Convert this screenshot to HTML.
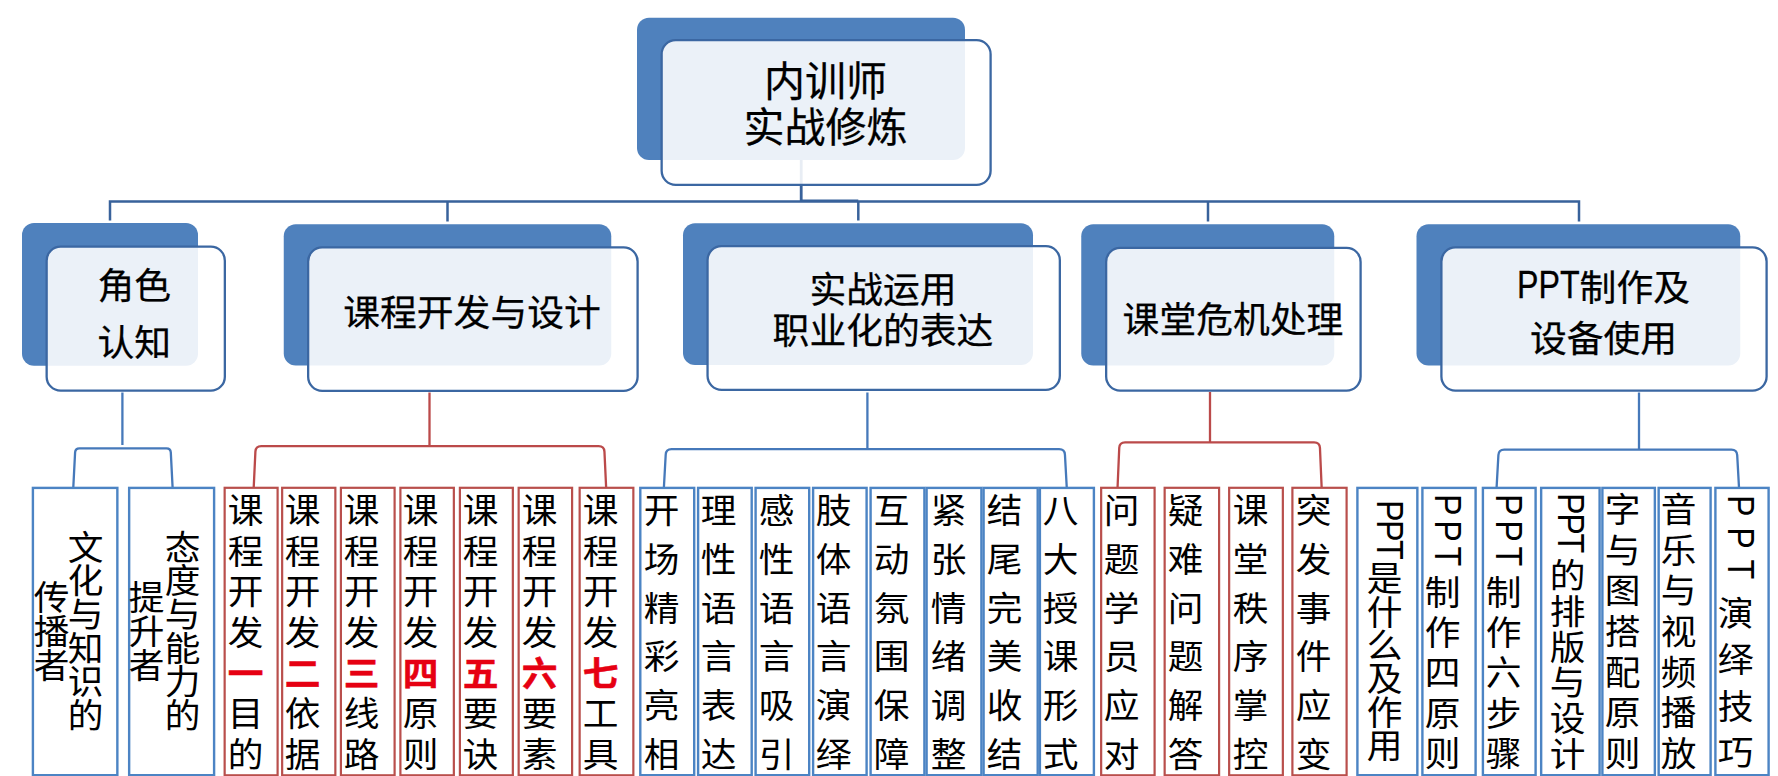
<!DOCTYPE html>
<html lang="zh-CN">
<head>
<meta charset="utf-8">
<title>内训师实战修炼</title>
<style>
html,body{margin:0;padding:0;background:#fff;}
body{width:1778px;height:776px;overflow:hidden;position:relative;font-family:"Liberation Sans","Noto Sans CJK SC",sans-serif;color:#000;}
#stage{position:absolute;left:0;top:0;width:1778px;height:776px;overflow:hidden;}
svg{position:absolute;left:0;top:0;}
.h{position:absolute;width:600px;text-align:center;white-space:nowrap;-webkit-text-stroke:0.25px #000;}
.v{position:absolute;writing-mode:vertical-rl;white-space:nowrap;text-orientation:mixed;transform:scaleX(1.05);transform-origin:50% 50%;}
.v b{color:#e60012;font-weight:700;-webkit-text-stroke:0.5px #e60012;}
.p{font-size:0.875em;display:inline-block;line-height:1;transform:translateY(-2.5px) scaleY(1.18);transform-origin:50% 84.6%;}
.pv{font-size:0.95em;display:inline-block;transform:translateX(7px) scaleX(1.1);transform-origin:50% 50%;}
</style>
</head>
<body>
<div id="stage">
<svg width="1778" height="776" viewBox="0 0 1778 776">
<path d="M801.2 159 V201.4" fill="none" stroke="#38629b" stroke-width="2.8"/>
<path d="M110 220.5 V201.4 H1579 V221.5" fill="none" stroke="#38629b" stroke-width="2.5"/>
<path d="M801.2 200.4 H858.3" fill="none" stroke="#38629b" stroke-width="1.6"/>
<path d="M447.5 201.4 V221.5" fill="none" stroke="#38629b" stroke-width="2.5"/>
<path d="M858.3 201.4 V220.5" fill="none" stroke="#38629b" stroke-width="2.5"/>
<path d="M1208 201.4 V221.5" fill="none" stroke="#38629b" stroke-width="2.5"/>
<path d="M122.4 392.5 V445" fill="none" stroke="#4679ba" stroke-width="2.3"/>
<path d="M73.30 487.5 L75.10 452.40 Q75.40 448.4 79.40 448.4 H166.50 Q170.50 448.4 170.80 452.40 L172.60 487.5" fill="none" stroke="#4679ba" stroke-width="2.3"/>
<path d="M429.5 392.5 V446.1" fill="none" stroke="#bb4a4a" stroke-width="2.3"/>
<path d="M253.60 490 L255.40 451.60 Q255.70 446.1 261.20 446.1 H598.65 Q604.15 446.1 604.45 451.60 L606.25 490" fill="none" stroke="#bb4a4a" stroke-width="2.3"/>
<path d="M867.4 392.5 V449.2" fill="none" stroke="#4679ba" stroke-width="2.3"/>
<path d="M663.90 487.5 L665.70 454.70 Q666.00 449.2 671.50 449.2 H1059.15 Q1064.65 449.2 1064.95 454.70 L1066.75 487.5" fill="none" stroke="#4679ba" stroke-width="2.3"/>
<path d="M1210 392 V442.3" fill="none" stroke="#bb4a4a" stroke-width="2.3"/>
<path d="M1117.45 490 L1119.25 447.80 Q1119.55 442.3 1125.05 442.3 H1314.15 Q1319.65 442.3 1319.95 447.80 L1321.75 490" fill="none" stroke="#bb4a4a" stroke-width="2.3"/>
<path d="M1639 392.5 V449.6" fill="none" stroke="#4679ba" stroke-width="2.3"/>
<path d="M1496.60 487.5 L1498.40 455.10 Q1498.70 449.6 1504.20 449.6 H1731.40 Q1736.90 449.6 1737.20 455.10 L1739.00 487.5" fill="none" stroke="#4679ba" stroke-width="2.3"/>
<rect x="637.00" y="17.70" width="328.00" height="142.30" rx="12" ry="12" fill="#4f81bd"/>
<rect x="22.00" y="223.00" width="176.00" height="142.75" rx="12" ry="12" fill="#4f81bd"/>
<rect x="283.75" y="224.25" width="327.50" height="141.25" rx="12" ry="12" fill="#4f81bd"/>
<rect x="683.00" y="223.25" width="350.00" height="141.75" rx="12" ry="12" fill="#4f81bd"/>
<rect x="1081.25" y="224.25" width="253.00" height="141.25" rx="12" ry="12" fill="#4f81bd"/>
<rect x="1416.50" y="224.25" width="323.75" height="141.25" rx="12" ry="12" fill="#4f81bd"/>
<rect x="661.65" y="40.15" width="328.95" height="144.70" rx="14" ry="14" fill="rgba(255,255,255,0.885)" stroke="#3b67a2" stroke-width="2.3"/>
<rect x="46.65" y="246.65" width="178.20" height="144.00" rx="14" ry="14" fill="rgba(255,255,255,0.885)" stroke="#3b67a2" stroke-width="2.3"/>
<rect x="308.15" y="247.40" width="329.45" height="143.45" rx="14" ry="14" fill="rgba(255,255,255,0.885)" stroke="#3b67a2" stroke-width="2.3"/>
<rect x="707.55" y="246.15" width="352.30" height="143.70" rx="14" ry="14" fill="rgba(255,255,255,0.885)" stroke="#3b67a2" stroke-width="2.3"/>
<rect x="1106.15" y="247.90" width="254.45" height="142.70" rx="14" ry="14" fill="rgba(255,255,255,0.885)" stroke="#3b67a2" stroke-width="2.3"/>
<rect x="1441.40" y="247.40" width="325.20" height="143.20" rx="14" ry="14" fill="rgba(255,255,255,0.885)" stroke="#3b67a2" stroke-width="2.3"/>
<rect x="640.30" y="487.90" width="53.90" height="287.30" rx="0" ry="0" fill="#fff" stroke="#4c84c4" stroke-width="2.4"/>
<rect x="698.10" y="487.90" width="53.60" height="287.30" rx="0" ry="0" fill="#fff" stroke="#4c84c4" stroke-width="2.4"/>
<rect x="755.60" y="487.90" width="53.60" height="287.30" rx="0" ry="0" fill="#fff" stroke="#4c84c4" stroke-width="2.4"/>
<rect x="813.10" y="487.90" width="53.50" height="287.30" rx="0" ry="0" fill="#fff" stroke="#4c84c4" stroke-width="2.4"/>
<rect x="870.60" y="487.90" width="53.80" height="287.30" rx="0" ry="0" fill="#fff" stroke="#4c84c4" stroke-width="2.4"/>
<rect x="926.60" y="487.90" width="54.80" height="287.30" rx="0" ry="0" fill="#fff" stroke="#4c84c4" stroke-width="2.4"/>
<rect x="983.60" y="487.90" width="54.10" height="287.30" rx="0" ry="0" fill="#fff" stroke="#4c84c4" stroke-width="2.4"/>
<rect x="1039.90" y="487.90" width="54.00" height="287.30" rx="0" ry="0" fill="#fff" stroke="#4c84c4" stroke-width="2.4"/>
<rect x="32.90" y="487.90" width="84.45" height="287.30" rx="0" ry="0" fill="#fff" stroke="#4c84c4" stroke-width="2.4"/>
<rect x="129.15" y="487.90" width="84.95" height="287.30" rx="0" ry="0" fill="#fff" stroke="#4c84c4" stroke-width="2.4"/>
<rect x="1357.40" y="487.90" width="59.95" height="287.30" rx="0" ry="0" fill="#fff" stroke="#4c84c4" stroke-width="2.4"/>
<rect x="1422.40" y="487.90" width="53.20" height="287.30" rx="0" ry="0" fill="#fff" stroke="#4c84c4" stroke-width="2.4"/>
<rect x="1482.90" y="487.90" width="52.70" height="287.30" rx="0" ry="0" fill="#fff" stroke="#4c84c4" stroke-width="2.4"/>
<rect x="1541.15" y="487.90" width="58.45" height="287.30" rx="0" ry="0" fill="#fff" stroke="#4c84c4" stroke-width="2.4"/>
<rect x="1602.40" y="487.90" width="52.45" height="287.30" rx="0" ry="0" fill="#fff" stroke="#4c84c4" stroke-width="2.4"/>
<rect x="1658.65" y="487.90" width="51.95" height="287.30" rx="0" ry="0" fill="#fff" stroke="#4c84c4" stroke-width="2.4"/>
<rect x="1715.40" y="487.90" width="53.20" height="287.30" rx="0" ry="0" fill="#fff" stroke="#4c84c4" stroke-width="2.4"/>
<rect x="224.65" y="487.80" width="52.95" height="287.50" rx="0" ry="0" fill="#fff" stroke="#b94f4c" stroke-width="2.2"/>
<rect x="282.15" y="487.80" width="53.20" height="287.50" rx="0" ry="0" fill="#fff" stroke="#b94f4c" stroke-width="2.2"/>
<rect x="340.90" y="487.80" width="53.70" height="287.50" rx="0" ry="0" fill="#fff" stroke="#b94f4c" stroke-width="2.2"/>
<rect x="400.40" y="487.80" width="53.45" height="287.50" rx="0" ry="0" fill="#fff" stroke="#b94f4c" stroke-width="2.2"/>
<rect x="459.90" y="487.80" width="52.95" height="287.50" rx="0" ry="0" fill="#fff" stroke="#b94f4c" stroke-width="2.2"/>
<rect x="518.65" y="487.80" width="53.45" height="287.50" rx="0" ry="0" fill="#fff" stroke="#b94f4c" stroke-width="2.2"/>
<rect x="579.65" y="487.80" width="53.70" height="287.50" rx="0" ry="0" fill="#fff" stroke="#b94f4c" stroke-width="2.2"/>
<rect x="1101.15" y="487.80" width="53.45" height="287.50" rx="0" ry="0" fill="#fff" stroke="#b94f4c" stroke-width="2.2"/>
<rect x="1164.65" y="487.80" width="54.45" height="287.50" rx="0" ry="0" fill="#fff" stroke="#b94f4c" stroke-width="2.2"/>
<rect x="1229.15" y="487.80" width="53.70" height="287.50" rx="0" ry="0" fill="#fff" stroke="#b94f4c" stroke-width="2.2"/>
<rect x="1292.40" y="487.80" width="54.20" height="287.50" rx="0" ry="0" fill="#fff" stroke="#b94f4c" stroke-width="2.2"/>
</svg>
<div class="h" style="left:525.50px;top:58.50px;font-size:41px;line-height:46.5px">内训师<br>实战修炼</div>
<div class="h" style="left:-165.70px;top:257.50px;font-size:36.8px;line-height:57.5px">角色<br>认知</div>
<div class="h" style="left:172.00px;top:285.00px;font-size:36.8px;line-height:57.5px">课程开发与设计</div>
<div class="h" style="left:583.00px;top:270.00px;font-size:36.8px;line-height:41px">实战运用<br>职业化的表达</div>
<div class="h" style="left:933.00px;top:291.70px;font-size:36.8px;line-height:57.5px">课堂危机处理</div>
<div class="h" style="left:1303.50px;top:263.30px;font-size:36.8px;line-height:51px"><span class="p">PPT</span>制作及<br>设备使用</div>
<div class="v" style="left:66.30px;top:530.20px;width:34px;font-size:34px;line-height:34px;letter-spacing:-0.45px;">文化与知识的</div>
<div class="v" style="left:31.70px;top:580.00px;width:34px;font-size:34px;line-height:34px;letter-spacing:-0.2px;">传播者</div>
<div class="v" style="left:162.50px;top:530.20px;width:34px;font-size:34px;line-height:34px;letter-spacing:-0.45px;">态度与能力的</div>
<div class="v" style="left:127.30px;top:580.00px;width:34px;font-size:34px;line-height:34px;letter-spacing:-0.2px;">提升者</div>
<div class="v" style="left:225.90px;top:493.10px;width:34px;font-size:34px;line-height:34px;letter-spacing:6.7px;">课程开发<b>一</b>目的</div>
<div class="v" style="left:283.20px;top:493.10px;width:34px;font-size:34px;line-height:34px;letter-spacing:6.7px;">课程开发<b>二</b>依据</div>
<div class="v" style="left:341.70px;top:493.10px;width:34px;font-size:34px;line-height:34px;letter-spacing:6.7px;">课程开发<b>三</b>线路</div>
<div class="v" style="left:401.30px;top:493.10px;width:34px;font-size:34px;line-height:34px;letter-spacing:6.7px;">课程开发<b>四</b>原则</div>
<div class="v" style="left:460.70px;top:493.10px;width:34px;font-size:34px;line-height:34px;letter-spacing:6.7px;">课程开发<b>五</b>要诀</div>
<div class="v" style="left:520.00px;top:493.10px;width:34px;font-size:34px;line-height:34px;letter-spacing:6.7px;">课程开发<b>六</b>要素</div>
<div class="v" style="left:581.20px;top:493.10px;width:34px;font-size:34px;line-height:34px;letter-spacing:6.7px;">课程开发<b>七</b>工具</div>
<div class="v" style="left:641.50px;top:493.20px;width:34px;font-size:34px;line-height:34px;letter-spacing:14.85px;">开场精彩亮相</div>
<div class="v" style="left:699.25px;top:493.20px;width:34px;font-size:34px;line-height:34px;letter-spacing:14.85px;">理性语言表达</div>
<div class="v" style="left:756.75px;top:493.20px;width:34px;font-size:34px;line-height:34px;letter-spacing:14.85px;">感性语言吸引</div>
<div class="v" style="left:814.25px;top:493.20px;width:34px;font-size:34px;line-height:34px;letter-spacing:14.85px;">肢体语言演绎</div>
<div class="v" style="left:871.90px;top:493.20px;width:34px;font-size:34px;line-height:34px;letter-spacing:14.85px;">互动氛围保障</div>
<div class="v" style="left:928.90px;top:493.20px;width:34px;font-size:34px;line-height:34px;letter-spacing:14.85px;">紧张情绪调整</div>
<div class="v" style="left:984.90px;top:493.20px;width:34px;font-size:34px;line-height:34px;letter-spacing:14.85px;">结尾完美收结</div>
<div class="v" style="left:1041.10px;top:493.20px;width:34px;font-size:34px;line-height:34px;letter-spacing:14.85px;">八大授课形式</div>
<div class="v" style="left:1102.10px;top:493.20px;width:34px;font-size:34px;line-height:34px;letter-spacing:14.85px;">问题学员应对</div>
<div class="v" style="left:1166.10px;top:493.20px;width:34px;font-size:34px;line-height:34px;letter-spacing:14.85px;">疑难问题解答</div>
<div class="v" style="left:1230.50px;top:493.20px;width:34px;font-size:34px;line-height:34px;letter-spacing:14.85px;">课堂秩序掌控</div>
<div class="v" style="left:1294.25px;top:493.20px;width:34px;font-size:34px;line-height:34px;letter-spacing:14.85px;">突发事件应变</div>
<div class="v" style="left:1365.10px;top:500.30px;width:34px;font-size:34px;line-height:34px;letter-spacing:-0.7px;"><span class="pv" style="letter-spacing:-1.6px;margin-inline-end:3.5px">PPT</span>是什么及作用</div>
<div class="v" style="left:1423.25px;top:494.00px;width:34px;font-size:34px;line-height:34px;letter-spacing:6.15px;"><span class="pv" style="letter-spacing:4.7px;margin-inline-end:4.3px">PPT</span>制作四原则</div>
<div class="v" style="left:1484.10px;top:494.00px;width:34px;font-size:34px;line-height:34px;letter-spacing:6.15px;"><span class="pv" style="letter-spacing:4.7px;margin-inline-end:4.3px">PPT</span>制作六步骤</div>
<div class="v" style="left:1547.60px;top:493.30px;width:34px;font-size:34px;line-height:34px;letter-spacing:1.7px;"><span class="pv" style="letter-spacing:-1.3px;margin-inline-end:6.5px;transform:translateX(5.2px) scaleX(1.1)">PPT</span>的排版与设计</div>
<div class="v" style="left:1603.25px;top:492.20px;width:34px;font-size:34px;line-height:34px;letter-spacing:6.65px;">字与图搭配原则</div>
<div class="v" style="left:1658.90px;top:492.20px;width:34px;font-size:34px;line-height:34px;letter-spacing:6.65px;">音乐与视频播放</div>
<div class="v" style="left:1716.40px;top:494.60px;width:34px;font-size:34px;line-height:34px;letter-spacing:12.5px;"><span class="pv" style="letter-spacing:10.7px;margin-inline-end:6.1px">PPT</span>演绎技巧</div>
</div>
</body>
</html>
